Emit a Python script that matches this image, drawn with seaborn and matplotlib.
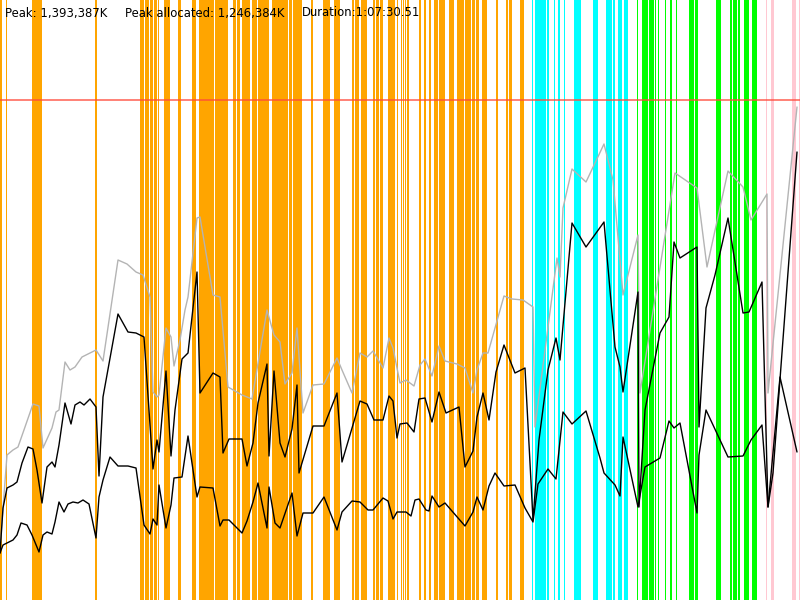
import numpy as np
import pandas as pd
import matplotlib
matplotlib.use("Agg")
import matplotlib.pyplot as plt
import seaborn as sns

''' DATA '''
# committed heap (gray)
committed_t = [0, 7, 13, 18, 25, 33, 39, 43, 52, 56, 59, 65, 70, 75, 82, 88, 96, 103, 118, 127,
               136, 143, 150, 153, 157, 159, 166, 171, 174, 180, 185, 188, 197, 200, 213, 220, 228, 242, 252, 267,
               274, 280, 285, 292, 297, 303, 313, 324, 337, 342, 352, 360, 367, 373, 383, 389, 393, 400, 406, 414,
               420, 425, 432, 439, 445, 457, 465, 473, 477, 483, 488, 504, 512, 523, 533, 535, 557, 560, 563, 572,
               586, 604, 613, 623, 638, 640, 675, 697, 707, 728, 743, 751, 767, 768, 797]
committed_mem = [52, 145, 150, 153, 173, 196, 194, 152, 172, 188, 190, 238, 230, 233, 243, 246, 250, 239, 340, 336,
                 328, 325, 303, 208, 203, 205, 272, 263, 234, 260, 290, 303, 382, 383, 305, 303, 213, 205, 201, 290,
                 265, 258, 216, 227, 272, 187, 215, 216, 242, 230, 207, 247, 243, 249, 232, 262, 252, 217, 220, 214,
                 235, 241, 224, 254, 239, 236, 232, 207, 230, 247, 247, 304, 301, 300, 293, 173, 342, 323, 392, 431,
                 418, 456, 420, 305, 365, 207, 427, 412, 333, 429, 413, 380, 406, 207, 493]

# used heap (upper black)
used_t = [0, 3, 7, 13, 17, 22, 28, 33, 37, 42, 47, 52, 55, 59, 65, 71, 75, 80, 84, 90,
          96, 99, 103, 118, 128, 136, 144, 153, 157, 159, 166, 171, 175, 182, 188, 197, 200, 213, 220, 223,
          229, 242, 247, 253, 258, 267, 269, 274, 280, 285, 292, 297, 299, 313, 324, 337, 342, 360, 367, 374,
          383, 389, 393, 397, 400, 407, 414, 419, 425, 432, 439, 446, 459, 465, 473, 477, 483, 489, 496, 504,
          515, 525, 533, 539, 548, 556, 560, 572, 586, 604, 615, 620, 623, 638, 639, 645, 660, 669, 674, 680,
          697, 699, 706, 715, 728, 743, 749, 762, 768, 773, 797]
used_mem = [47, 92, 112, 115, 118, 137, 153, 151, 130, 97, 133, 138, 133, 155, 197, 176, 195, 198, 195, 201,
            193, 124, 203, 286, 268, 267, 263, 131, 160, 148, 229, 144, 190, 241, 247, 328, 207, 227, 223, 147,
            161, 161, 134, 157, 197, 236, 144, 229, 157, 143, 171, 215, 127, 174, 174, 207, 138, 199, 196, 180,
            180, 204, 199, 162, 176, 177, 168, 201, 202, 178, 208, 187, 193, 133, 149, 183, 207, 180, 228, 255,
            227, 232, 80, 160, 230, 262, 240, 377, 353, 378, 253, 233, 208, 308, 93, 190, 267, 283, 358, 342,
            353, 173, 292, 325, 382, 287, 288, 318, 93, 127, 448]

# live after gc (lower black)
live_t = [0, 3, 7, 13, 17, 21, 27, 32, 39, 43, 47, 52, 55, 59, 64, 68, 73, 78, 83, 89,
          96, 99, 103, 110, 118, 128, 136, 144, 150, 153, 157, 159, 166, 171, 174, 182, 188, 197, 200, 213,
          220, 223, 229, 242, 247, 253, 258, 267, 269, 275, 280, 292, 297, 303, 313, 324, 337, 342, 352, 360,
          368, 373, 383, 388, 393, 397, 400, 406, 411, 415, 419, 426, 429, 432, 439, 445, 465, 473, 477, 483,
          489, 495, 504, 515, 525, 533, 538, 548, 556, 563, 572, 586, 600, 604, 615, 620, 623, 638, 645, 660,
          669, 674, 680, 697, 699, 706, 728, 743, 751, 762, 768, 780, 797]
live_mem = [47, 55, 57, 60, 65, 77, 75, 65, 48, 65, 68, 66, 78, 98, 88, 96, 98, 97, 100, 96,
            62, 103, 120, 143, 134, 134, 132, 75, 66, 81, 75, 115, 72, 95, 122, 123, 164, 103, 113, 112,
            74, 80, 80, 67, 79, 98, 117, 72, 113, 77, 72, 107, 64, 87, 87, 103, 70, 88, 99, 98,
            90, 90, 102, 99, 81, 88, 88, 88, 84, 100, 101, 90, 89, 104, 93, 97, 74, 88, 103, 90,
            114, 127, 114, 115, 92, 78, 116, 131, 121, 188, 176, 189, 142, 127, 115, 104, 163, 93, 133, 142,
            179, 172, 177, 87, 145, 190, 143, 144, 160, 175, 93, 223, 148]

max_heap = 500

# gc events (start, end) by kind
orange_events = [(0, 2), (5.7, 7.3), (32, 42), (95, 97), (140, 144), (145, 149), (150, 153), (154, 157),
                 (157.5, 159), (164, 170), (178, 181), (192, 196), (199, 214), (215, 228), (233, 236),
                 (237, 240), (242, 250), (252, 257), (258, 269), (272, 288), (289, 292), (293, 302),
                 (311, 313), (323, 330), (334, 340), (352, 354), (355, 359), (361, 367), (373, 375),
                 (376, 379), (380, 383), (388, 395), (397, 398), (401, 402), (403, 404), (405, 406),
                 (407, 409), (419, 421), (424, 426), (429, 431), (434, 438), (439, 445), (449, 454),
                 (457, 464), (465, 471), (472, 475), (476, 479), (482, 487), (496, 498), (506, 508),
                 (509, 512), (520, 524)]
cyan_events = [(532, 533), (535, 546), (547, 549), (554, 555), (558, 560), (564, 565), (574, 581),
               (593, 598), (606, 612), (613, 615), (618, 622), (624, 628)]
green_events = [(637, 637.7), (642, 648), (649, 654), (655, 656), (658, 659), (665, 666), (670, 672),
                (676, 677), (689, 694), (695, 698), (716, 721), (730, 732), (733, 737), (738, 740),
                (744, 749), (752, 757)]
pink_events = [(766, 767), (771, 774), (792, 796), (799, 800)]

header = ["Peak: 1,393,387K", "Peak allocated: 1,246,384K", "Duration:1:07:30.51"]
header_x = [5, 125, 302]

''' PLOT '''
sns.set_style("white")
fig = plt.figure(figsize=(8, 6), dpi=100)
ax = fig.add_axes([0, 0, 1, 1])

for events, col in [(orange_events, "#ffa500"), (cyan_events, "#00ffff"),
                    (green_events, "#00ff00"), (pink_events, "#ffc8d2")]:
    for t0, t1 in events:
        ax.axvspan(t0, t1, color=col, lw=0, zorder=1)

ax.axhline(max_heap, color="#ff4a3a", alpha=0.75, lw=1.3, zorder=2)

committed = pd.DataFrame({"t": committed_t, "mem": committed_mem})
used = pd.DataFrame({"t": used_t, "mem": used_mem})
live = pd.DataFrame({"t": live_t, "mem": live_mem})

sns.lineplot(data=committed, x="t", y="mem", color="#b4b4b4", lw=1.0, estimator=None, sort=False, ax=ax, zorder=3)
sns.lineplot(data=used, x="t", y="mem", color="black", lw=1.0, estimator=None, sort=False, ax=ax, zorder=4)
sns.lineplot(data=live, x="t", y="mem", color="black", lw=1.0, estimator=None, sort=False, ax=ax, zorder=4)

for txt, tx in zip(header, header_x):
    ax.text(tx, 587, txt, fontsize=8.4, va="center", ha="left", color="black", zorder=5)

ax.set_xlim(0, 800)
ax.set_ylim(0, 600)
ax.set_axis_off()

fig.savefig("out.png", dpi=100)
